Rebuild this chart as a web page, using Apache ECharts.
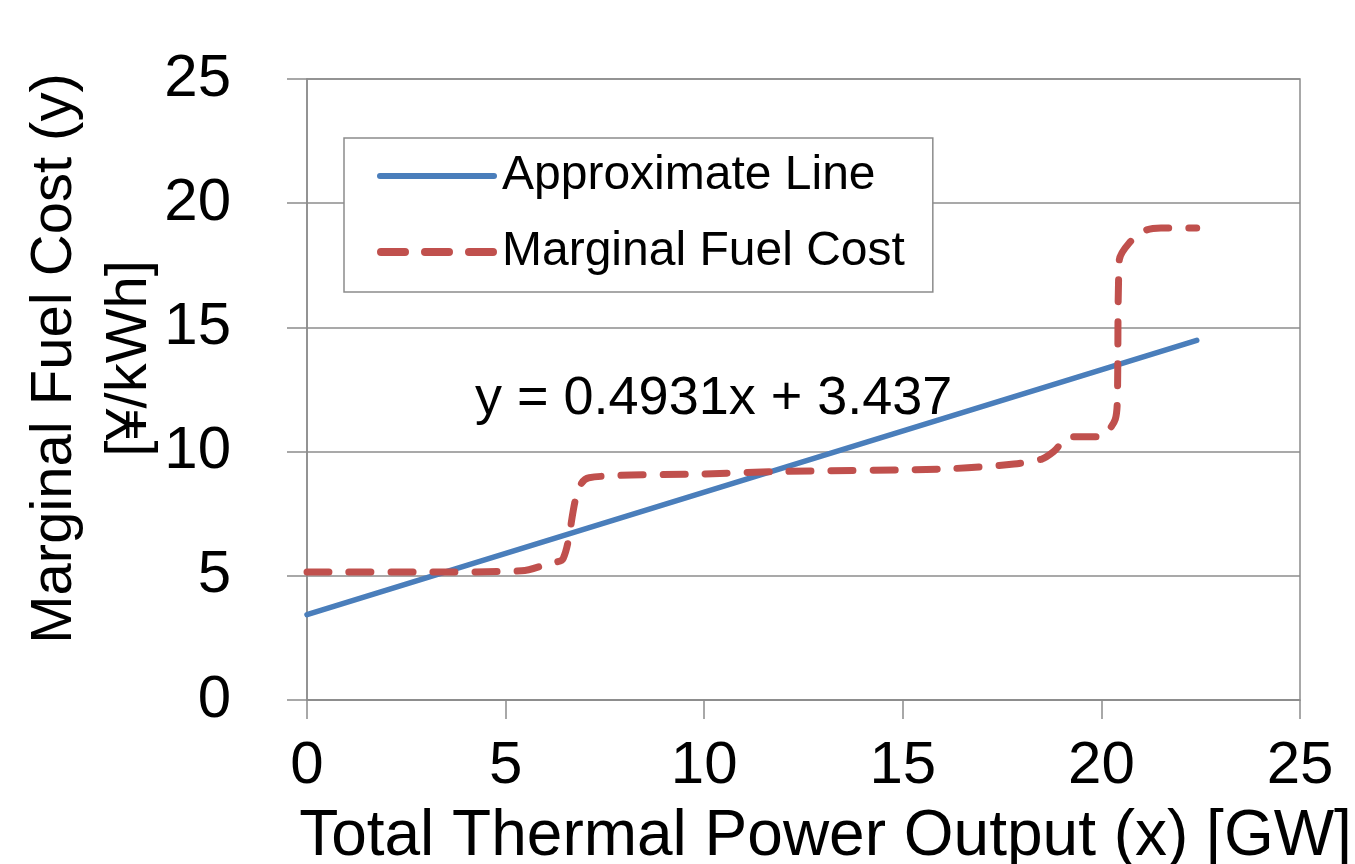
<!DOCTYPE html>
<html>
<head>
<meta charset="utf-8">
<title>Marginal Fuel Cost</title>
<script src="https://cdn.jsdelivr.net/npm/echarts@6/dist/echarts.min.js"></script>
<style>
  html, body { margin: 0; padding: 0; background: #fff; }
  #chart { width: 1355px; height: 864px; }
</style>
</head>
<body>
<div id="chart"></div>
<script>
// values
var approxLine = [[0, 3.437], [22.4, 14.48]];
var marginalCost = [
    [0, 5.15], [3, 5.15], [5.4, 5.2], [6.1, 5.5], [6.45, 5.7], [7.1, 8.95],
    [10, 9.1], [12, 9.2], [16, 9.3], [17.8, 9.5], [18.5, 9.7], [18.8, 10.0],
    [19.2, 10.6], [20, 10.6], [20.2, 10.9], [20.35, 11.3], [20.4, 12],
    [20.45, 17.7], [20.7, 18.4], [21.1, 18.9], [21.5, 19.0], [22.4, 19.0]
];
var seriesNames = ['Approximate Line', 'Marginal Fuel Cost'];
var equationText = 'y = 0.4931x + 3.437';

var fontFamily = '"Liberation Sans", Arial, sans-serif';
var myChart = echarts.init(document.getElementById('chart'));

// legend icons: a solid bar and three dashes
var solidIcon = 'path://M3,0h114a3,3 0 0 1 0,6h-114a3,3 0 0 1 0,-6z';
var dashIcon = 'path://M4,0h24a4,4 0 0 1 0,8h-24a4,4 0 0 1 0,-8z' +
    'M48,0h24a4,4 0 0 1 0,8h-24a4,4 0 0 1 0,-8z' +
    'M92,0h24a4,4 0 0 1 0,8h-24a4,4 0 0 1 0,-8z';

var option = {
    backgroundColor: '#fff',
    animation: false,
    grid: {
        left: 307, top: 79, right: 55, bottom: 164,
        outerBoundsMode: 'none',
        containLabel: false,
        show: true, borderColor: '#8c8c8c', borderWidth: 1.5
    },
    legend: {
        orient: 'vertical',
        left: 344, top: 138,
        padding: [12, 28, 14, 33],
        itemGap: 24,
        itemWidth: 120, itemHeight: 8,
        borderColor: '#8c8c8c', borderWidth: 1.5,
        backgroundColor: '#fff',
        itemStyle: { borderWidth: 0 },
        textStyle: { fontFamily: fontFamily, fontSize: 48, color: '#000', lineHeight: 52 },
        data: [
            { name: seriesNames[0], icon: solidIcon },
            { name: seriesNames[1], icon: dashIcon }
        ]
    },
    xAxis: {
        type: 'value', min: 0, max: 25, interval: 5,
        name: 'Total Thermal Power Output (x) [GW]',
        nameLocation: 'middle', nameGap: 105,
        nameTextStyle: { fontFamily: fontFamily, fontSize: 64, color: '#000', padding: [0, 0, 0, 44] },
        axisLine: { lineStyle: { color: '#8c8c8c', width: 1.5 } },
        axisTick: { show: true, length: 19, inside: false, lineStyle: { color: '#8c8c8c', width: 1.5 } },
        axisLabel: { fontFamily: fontFamily, fontSize: 60, color: '#000', margin: 36 },
        splitLine: { show: false }
    },
    yAxis: {
        type: 'value', min: 0, max: 25, interval: 5,
        name: 'Marginal Fuel Cost (y)\n[¥/kWh]',
        nameLocation: 'middle', nameGap: 140, nameRotate: 90,
        nameMoveOverlap: false,
        nameTextStyle: { fontFamily: fontFamily, fontSize: 58, color: '#000', lineHeight: 75, padding: [0, 0, 0, 62] },
        axisLine: { show: true, lineStyle: { color: '#8c8c8c', width: 1.5 } },
        axisTick: { show: true, length: 20, inside: false, lineStyle: { color: '#8c8c8c', width: 1.5 } },
        axisLabel: { fontFamily: fontFamily, fontSize: 60, color: '#000', margin: 76 },
        splitLine: { show: true, lineStyle: { color: '#8c8c8c', width: 1.5 } }
    },
    graphic: [{
        type: 'text',
        left: 475, top: 372,
        style: { text: equationText, fontFamily: fontFamily, fontSize: 54, fill: '#000' },
        z: 100
    }],
    series: [{
        name: seriesNames[0],
        type: 'line',
        data: approxLine,
        symbol: 'none',
        color: '#4a7ebb',
        lineStyle: { color: '#4a7ebb', width: 5.5, cap: 'round' },
        z: 3
    }, {
        name: seriesNames[1],
        type: 'line',
        data: marginalCost,
        symbol: 'none',
        smooth: 0.3,
        color: '#c0504d',
        lineStyle: { color: '#c0504d', width: 7, type: [22, 20], cap: 'round', join: 'round' },
        z: 4
    }]
};
myChart.setOption(option);
</script>
</body>
</html>
